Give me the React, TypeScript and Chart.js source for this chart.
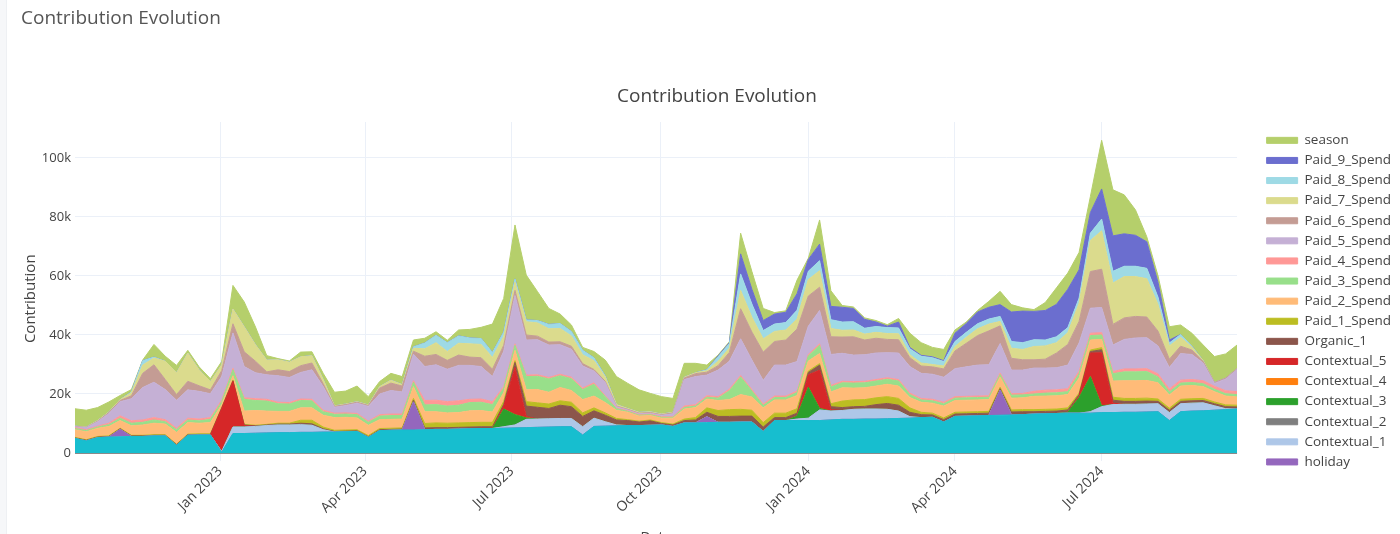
import React, { useEffect, useRef } from "react";
import { Chart, registerables } from "chart.js";

Chart.register(...registerables);

// weekly points, first week = Mon 3 Oct 2022; values in thousands
const firstWeek = Date.UTC(2022, 9, 3);
const tickDates = ["2023-01-01", "2023-04-01", "2023-07-01", "2023-10-01", "2024-01-01", "2024-04-01", "2024-07-01"];
const tickLabels = ["Jan 2023", "Apr 2023", "Jul 2023", "Oct 2023", "Jan 2024", "Apr 2024", "Jul 2024"];
const yTicks = [0, 20, 40, 60, 80, 100];

const trend = [
  4.9, 4.1, 5.2, 5.4, 5.5, 5.6, 5.6, 5.8, 5.8, 2.6, 6.0, 6.1, 6.1,
  0.2, 6.6, 6.6, 6.7, 6.8, 6.9, 6.9, 7.0, 7.0, 7.1, 7.1, 7.2, 7.3,
  5.3, 7.6, 7.7, 7.8, 7.8, 7.9, 8.0, 8.0, 8.1, 8.2, 8.3, 8.3, 8.4,
  8.5, 8.6, 8.7, 8.8, 8.9, 8.9, 6.1, 9.0, 9.1, 9.2, 9.3, 9.3, 9.4,
  9.5, 9.0, 10.2, 10.2, 10.3, 10.4, 10.4, 10.5, 10.5, 7.3, 11.0, 11.0, 11.0,
  11.0, 11.0, 11.2, 11.4, 11.4, 11.5, 11.5, 11.6, 11.7, 11.8, 12.0, 12.1, 10.5,
  12.4, 12.5, 12.6, 12.7, 12.8, 12.9, 13.0, 13.2, 13.3, 13.4, 13.5, 13.5, 13.5,
  13.7, 13.7, 13.8, 13.8, 13.9, 14.0, 11.0, 14.0, 14.2, 14.3, 14.5, 14.7, 14.9,
];
const holiday = [
  0, 0, 0, 0, 2.5, 0, 0, 0, 0, 0, 0, 0, 0,
  0, 0, 0, 0, 0, 0, 0, 0, 0, 0, 0, 0, 0,
  0, 0, 0, 0, 9.5, 0, 0, 0, 0, 0, 0, 0, 0,
  0, 0, 0, 0, 0, 0, 0, 0, 0, 0, 0, 0, 0,
  0, 0, 0, 0, 2.0, 0, 0, 0, 0, 0, 0, 0, 0,
  0, 0, 0, 0, 0, 0, 0, 0, 0, 0, 0, 0, 0,
  0, 0, 0, 0, 8.5, 0, 0, 0, 0, 0, 0, 0, 0,
  0, 0, 0, 0, 0, 0, 0, 0, 0, 0, 0, 0, 0,
];
const contextual1 = [
  0, 0, 0, 0, 0, 0, 0, 0, 0, 0, 0, 0, 0,
  0.3, 2.2, 2.2, 2.3, 2.5, 2.6, 2.6, 2.6, 2.4, 0.8, 0, 0, 0,
  0, 0, 0, 0, 0, 0, 0, 0, 0, 0, 0, 0, 0.5,
  1.0, 2.8, 2.8, 2.8, 2.8, 2.8, 2.8, 2.8, 1.5, 0.3, 0, 0, 0,
  0, 0, 0, 0, 0, 0, 0, 0, 0, 0, 0, 0, 0.5,
  0.8, 3.6, 3.0, 3.0, 3.4, 3.4, 3.4, 3.2, 2.5, 0.5, 0, 0, 0,
  0, 0, 0, 0, 0, 0, 0, 0, 0, 0, 0, 0, 0.5,
  2.0, 2.7, 2.7, 2.7, 2.7, 2.7, 2.7, 2.7, 2.7, 2.7, 1.5, 0.3, 0,
];
const contextual2 = [
  0, 0, 0, 0, 0, 0, 0, 0, 0, 0, 0, 0, 0,
  0, 0, 0, 0, 0, 0, 0, 0, 0, 0, 0, 0, 0,
  0, 0, 0, 0, 0, 0, 0, 0, 0, 0, 0, 0, 0,
  0, 0, 0, 0, 0, 0, 0, 0, 0, 0, 0, 0, 0,
  0, 0, 0, 0, 0, 0, 0, 0, 0, 0, 0, 0, 0,
  0, 0, 0, 0, 0, 0, 0, 0, 0, 0, 0, 0, 0,
  0, 0, 0, 0, 0, 0, 0, 0, 0, 0, 0, 0, 0,
  0, 0, 0, 0, 0, 0, 0, 0, 0, 0, 0, 0, 0,
];
const contextual3 = [
  0, 0, 0, 0, 0, 0, 0, 0, 0, 0, 0, 0, 0,
  0, 0, 0, 0, 0, 0, 0, 0, 0, 0, 0, 0, 0,
  0, 0, 0, 0, 0, 0, 0, 0, 0, 0, 0, 0, 6.0,
  3.5, 0.5, 0, 0, 0, 0, 0, 0, 0, 0, 0, 0, 0,
  0, 0, 0, 0, 0, 0, 0, 0, 0, 0, 0, 0, 1.0,
  10.5, 0.5, 0, 0, 0, 0, 0, 0, 0, 0, 0, 0, 0,
  0, 0, 0, 0, 0, 0, 0, 0, 0, 0, 0.3, 5.3, 11.9,
  0.3, 0, 0, 0, 0, 0, 0, 0, 0, 0, 0, 0, 0,
];
const contextual4 = [
  0, 0, 0, 0, 0, 0, 0, 0, 0, 0, 0, 0, 0,
  0, 0, 0, 0, 0, 0, 0, 0, 0, 0, 0, 0, 0,
  0, 0, 0, 0, 0, 0, 0, 0, 0, 0, 0, 0, 0,
  0, 0, 0, 0, 0, 0, 0, 0, 0, 0, 0, 0, 0,
  0, 0, 0, 0, 0, 0, 0, 0, 0, 0, 0, 0, 0,
  0, 0, 0, 0, 0, 0, 0, 0, 0, 0, 0, 0, 0,
  0, 0, 0, 0, 0, 0, 0, 0, 0, 0, 0, 0, 0,
  0, 0, 0, 0, 0, 0, 0, 0, 0, 0, 0, 0, 0,
];
const contextual5 = [
  0, 0, 0, 0, 0, 0, 0, 0, 0, 0, 0, 0, 0,
  14.5, 15.5, 0.5, 0, 0, 0, 0, 0, 0, 0, 0, 0, 0,
  0, 0, 0, 0, 0, 0, 0, 0, 0, 0, 0, 0, 1.0,
  16.0, 0.5, 0, 0, 0, 0, 0, 0, 0, 0, 0, 0, 0,
  0, 0, 0, 0, 0, 0, 0, 0, 0, 0, 0, 0, 0,
  4.2, 13.0, 0.5, 0, 0, 0, 0, 0, 0, 0, 0, 0, 0,
  0, 0, 0, 0, 0, 0, 0, 0, 0, 0, 0, 0.5, 8.0,
  18.0, 0.5, 0, 0, 0, 0, 0, 0, 0, 0, 0, 0, 0,
];
const organic1 = [
  0.2, 0.2, 0.2, 0.2, 0.2, 0.2, 0.2, 0.2, 0.2, 0.2, 0.2, 0.2, 0.2,
  0.2, 0.2, 0.2, 0.2, 0.2, 0.3, 0.3, 0.5, 0.5, 0.3, 0.2, 0.2, 0.2,
  0.2, 0.3, 0.3, 0.3, 0.6, 0.6, 0.6, 0.6, 0.6, 0.6, 0.6, 0.6, 0.6,
  1.7, 3.5, 4.0, 3.5, 4.5, 4.0, 3.5, 2.5, 2.2, 1.7, 1.7, 1.2, 1.5,
  0.5, 0.5, 0.8, 1.0, 1.5, 2.0, 2.0, 2.0, 2.0, 1.5, 1.0, 1.0, 1.0,
  0.8, 1.7, 1.0, 1.0, 0.9, 0.9, 1.5, 2.0, 2.0, 1.5, 1.0, 0.8, 0.8,
  0.8, 0.8, 0.8, 0.8, 0.5, 1.0, 1.0, 0.8, 0.8, 0.8, 0.8, 0.5, 0.5,
  1.0, 1.0, 1.0, 1.0, 1.0, 0.8, 0.8, 0.8, 0.8, 0.8, 0.7, 0.7, 0.7,
];
const paid1 = [
  0.2, 0.2, 0.2, 0.2, 0.2, 0.2, 0.2, 0.2, 0.2, 0.2, 0.2, 0.2, 0.2,
  0.2, 0.2, 0.2, 0.2, 0.2, 0.3, 0.3, 1.0, 1.2, 0.6, 0.4, 0.4, 0.4,
  0.4, 0.4, 0.4, 0.4, 0.6, 1.5, 1.6, 1.5, 1.5, 1.5, 1.5, 1.5, 1.0,
  0.6, 1.5, 1.5, 1.5, 1.5, 1.5, 1.2, 1.0, 0.8, 0.5, 0.3, 0.3, 0.3,
  0.3, 0.3, 0.5, 0.8, 1.5, 2.0, 2.3, 2.3, 2.0, 1.5, 1.5, 1.5, 1.5,
  0.5, 0.5, 1.0, 2.2, 2.3, 2.3, 2.3, 2.3, 2.3, 1.5, 0.8, 0.6, 0.6,
  0.6, 0.6, 0.6, 0.6, 0.5, 0.7, 0.7, 0.7, 0.7, 0.7, 0.7, 0.5, 0.5,
  0.7, 1.0, 1.0, 1.0, 1.0, 0.8, 0.7, 0.7, 0.7, 0.7, 0.6, 0.6, 0.6,
];
const paid2 = [
  2.6, 2.7, 2.8, 3.2, 2.6, 3.2, 3.5, 3.9, 3.6, 4.0, 3.9, 3.6, 3.8,
  1.0, 1.5, 4.5, 5.0, 4.5, 4.0, 4.0, 4.2, 4.2, 4.0, 4.3, 4.3, 4.0,
  3.5, 3.0, 3.0, 3.0, 4.0, 4.0, 3.8, 3.5, 3.5, 4.0, 4.0, 3.5, 3.0,
  3.5, 4.0, 4.5, 4.0, 4.5, 4.0, 4.5, 4.0, 3.5, 2.8, 2.5, 1.7, 1.5,
  1.5, 2.0, 3.4, 3.4, 3.0, 3.4, 3.4, 5.0, 4.5, 5.0, 4.5, 4.5, 4.5,
  3.4, 3.4, 4.0, 4.5, 4.0, 4.0, 4.0, 4.2, 4.2, 3.5, 3.4, 3.4, 4.0,
  4.0, 4.0, 4.0, 4.0, 3.5, 4.0, 4.0, 4.5, 4.5, 4.5, 4.5, 5.1, 3.4,
  2.8, 5.5, 6.0, 6.0, 6.0, 5.5, 4.5, 4.5, 4.5, 4.0, 3.5, 3.0, 2.8,
];
const paid3 = [
  0.4, 0.4, 0.4, 0.6, 0.8, 0.9, 0.9, 1.1, 0.8, 0.9, 0.9, 0.8, 1.1,
  1.0, 2.0, 4.0, 3.4, 3.4, 2.6, 2.5, 2.5, 2.4, 1.2, 1.1, 1.1, 1.1,
  1.0, 1.2, 1.3, 1.2, 1.5, 2.3, 2.4, 2.3, 2.5, 2.8, 2.8, 2.5, 1.5,
  1.7, 4.5, 4.5, 4.5, 4.0, 4.0, 3.4, 4.0, 2.0, 0.5, 0.3, 0.3, 0.3,
  0.3, 0.3, 0.5, 0.5, 0.6, 0.8, 3.0, 6.0, 2.0, 0.8, 0.8, 0.8, 1.0,
  1.7, 2.8, 1.7, 1.7, 1.7, 1.7, 1.7, 1.7, 1.7, 1.0, 0.8, 0.8, 0.8,
  0.8, 0.8, 0.8, 0.8, 0.8, 1.0, 1.0, 0.8, 1.0, 1.0, 1.0, 1.5, 1.5,
  1.5, 2.5, 3.0, 3.0, 3.0, 2.0, 1.0, 1.0, 1.0, 1.0, 0.8, 0.8, 0.8,
];
const paid4 = [
  0.3, 0.3, 0.3, 0.5, 0.8, 0.8, 0.8, 0.8, 0.7, 0.5, 0.6, 0.6, 0.6,
  0.5, 0.5, 0.5, 0.6, 0.6, 0.5, 0.5, 0.5, 0.5, 0.5, 0.4, 0.4, 0.4,
  0.4, 0.5, 0.5, 0.5, 0.5, 1.5, 1.5, 1.5, 1.5, 1.1, 1.1, 1.0, 0.5,
  0.5, 0.5, 0.5, 0.5, 0.5, 0.5, 0.5, 0.5, 0.3, 0.2, 0.2, 0.2, 0.2,
  0.2, 0.2, 0.5, 0.5, 0.5, 0.5, 0.5, 0.5, 0.5, 0.5, 0.5, 0.5, 0.5,
  0.5, 0.5, 0.5, 0.5, 0.5, 0.5, 0.5, 0.5, 0.5, 0.5, 0.5, 0.5, 0.5,
  0.5, 0.5, 0.5, 0.5, 0.5, 0.5, 0.5, 0.9, 1.0, 1.0, 1.0, 0.8, 0.8,
  0.8, 0.7, 1.0, 1.0, 1.0, 1.0, 1.0, 1.0, 1.0, 1.0, 1.0, 1.0, 1.0,
];
const paid5 = [
  0.3, 0.7, 1.5, 3.3, 4.8, 7.5, 11.0, 12.0, 10.2, 9.5, 9.6, 9.4, 8.1,
  8.0, 12.0, 10.6, 8.8, 8.3, 9.0, 8.5, 9.0, 10.0, 8.0, 2.0, 2.5, 3.5,
  5.0, 7.0, 8.0, 7.5, 9.0, 11.5, 12.0, 11.0, 12.0, 11.5, 11.0, 8.5, 12.0,
  16.4, 11.9, 11.9, 11.0, 10.0, 9.5, 7.5, 4.0, 4.5, 0.5, 0.3, 0.3, 0.3,
  0.5, 1.0, 9.0, 9.5, 7.0, 9.0, 9.5, 12.4, 10.0, 8.0, 10.5, 10.5, 10.0,
  9.6, 11.3, 10.5, 9.5, 9.0, 9.0, 9.0, 8.5, 9.0, 9.0, 8.5, 8.5, 8.5,
  9.5, 10.0, 10.5, 10.5, 10.0, 8.0, 7.9, 7.9, 7.5, 7.5, 8.0, 9.6, 8.5,
  8.5, 9.0, 10.0, 10.5, 10.5, 9.5, 7.3, 9.0, 8.5, 6.0, 1.0, 4.0, 7.5,
];
const paid6 = [
  0.1, 0.1, 0.2, 0.3, 0.4, 1.0, 4.8, 5.9, 3.4, 1.9, 2.9, 1.9, 1.3,
  2.0, 3.1, 5.0, 3.9, 1.0, 2.0, 2.0, 2.3, 2.3, 1.0, 0.3, 0.3, 0.3,
  0.3, 2.0, 2.5, 2.0, 1.0, 3.5, 3.5, 3.0, 3.5, 2.8, 3.0, 2.5, 2.0,
  1.7, 1.7, 1.2, 1.0, 1.0, 1.0, 0.8, 0.5, 0.4, 0.2, 0.2, 0.2, 0.2,
  0.2, 0.3, 0.5, 1.0, 1.0, 1.5, 3.0, 10.2, 9.5, 9.6, 8.0, 8.5, 11.0,
  10.2, 7.9, 6.0, 5.5, 6.2, 5.0, 5.0, 4.5, 4.5, 3.0, 2.5, 2.5, 2.8,
  6.0, 8.0, 10.0, 11.5, 6.0, 4.0, 3.5, 2.8, 3.0, 5.0, 7.0, 7.3, 12.4,
  13.0, 7.0, 7.3, 7.3, 7.0, 5.0, 2.8, 2.5, 1.5, 0.5, 0.3, 0.3, 0.3,
];
const paid7 = [
  0.1, 0.1, 0.2, 0.2, 0.3, 1.0, 2.8, 2.3, 6.2, 7.4, 9.6, 5.4, 2.8,
  2.0, 5.0, 8.5, 5.6, 4.0, 3.4, 3.2, 3.0, 2.5, 1.5, 0.2, 0.2, 0.2,
  0.2, 0.5, 1.0, 0.5, 1.0, 2.5, 4.0, 3.0, 4.0, 4.5, 4.5, 4.0, 3.0,
  2.8, 4.5, 4.5, 4.5, 4.5, 3.5, 3.0, 3.0, 1.5, 0.5, 0.3, 0.3, 0.3,
  0.2, 0.2, 0.3, 0.3, 0.5, 1.5, 1.5, 6.2, 5.0, 4.5, 3.4, 3.4, 3.4,
  5.6, 5.6, 2.8, 2.3, 2.3, 2.0, 2.0, 2.0, 2.0, 1.0, 1.0, 0.8, 1.0,
  1.5, 2.0, 2.3, 2.3, 1.5, 3.4, 3.5, 4.5, 4.5, 3.5, 4.0, 6.2, 10.5,
  13.0, 14.0, 14.0, 13.5, 13.0, 9.0, 4.5, 3.0, 1.0, 0.3, 0, 0, 0,
];
const paid8 = [
  0, 0, 0, 0, 0, 0.3, 1.5, 0.3, 0, 0, 0, 0, 0,
  0, 0, 0, 0, 0, 0, 0, 0, 0, 0, 0, 0, 0,
  0, 0, 0, 0, 0.5, 2.0, 2.5, 3.0, 2.5, 2.0, 2.0, 1.7, 1.5,
  1.1, 0.6, 0.8, 1.5, 1.7, 1.5, 1.5, 1.0, 0.3, 0, 0, 0, 0,
  0, 0, 0, 0, 0.3, 1.5, 1.5, 5.6, 4.5, 2.8, 2.5, 2.5, 3.0,
  2.8, 3.4, 3.0, 2.8, 2.8, 2.0, 2.0, 2.0, 2.0, 2.0, 2.3, 2.3, 1.5,
  1.7, 1.7, 1.7, 1.7, 1.7, 2.3, 2.3, 2.3, 2.0, 2.0, 1.7, 1.7, 2.5,
  4.0, 4.0, 3.5, 3.5, 3.5, 2.5, 1.0, 1.0, 0.3, 0, 0, 0, 0,
];
const paid9 = [
  0, 0, 0, 0, 0, 0, 0, 0, 0, 0, 0, 0, 0,
  0, 0, 0, 0, 0, 0, 0, 0, 0, 0, 0, 0, 0,
  0, 0, 0, 0, 0, 0, 0, 0, 0, 0, 0, 0, 0,
  0, 0, 0, 0, 0, 0, 0, 0, 0, 0, 0, 0, 0,
  0, 0, 0, 0, 0, 0.3, 0.3, 6.8, 5.0, 3.4, 3.4, 3.5, 5.6,
  4.0, 5.6, 4.5, 5.0, 4.5, 3.0, 1.5, 0.5, 2.0, 0.5, 0.3, 0.3, 0.3,
  2.8, 3.0, 4.0, 4.0, 4.0, 10.0, 10.7, 9.6, 10.0, 11.0, 13.0, 9.6, 7.0,
  10.2, 12.0, 11.0, 10.5, 9.0, 5.0, 1.0, 0, 0, 0, 0, 0, 0,
];
const season = [
  5.9, 5.7, 4.4, 3.4, 1.4, 0.8, 0.2, 4.3, 1.7, 2.5, 0.9, 1.0, 1.0,
  1.1, 8.0, 8.4, 6.0, 1.5, 0.4, 0.4, 1.6, 1.3, 2.0, 4.6, 4.4, 5.3,
  2.8, 1.7, 2.3, 2.7, 2.3, 1.6, 1.2, 0.8, 2.0, 2.9, 3.8, 9.6, 11.4,
  18.3, 15.2, 9.8, 5.4, 3.2, 2.2, 1.0, 2.1, 5.4, 9.5, 8.5, 7.6, 6.2,
  5.9, 4.7, 4.7, 3.2, 1.6, 0.3, 0.3, 7.0, 6.0, 4.1, 0.5, 0.5, 4.6,
  0.4, 8.2, 5.3, 0.6, 0.5, 0.5, 0.5, 0.5, 1.2, 4.8, 4.3, 3.2, 3.8,
  1.1, 0.5, 0.5, 2.0, 4.5, 2.5, 1.1, 0.6, 2.7, 5.6, 5.5, 5.9, 5.4,
  16.5, 15.6, 13.2, 8.6, 1.7, 2.2, 4.5, 3.2, 4.4, 5.3, 8.8, 8.2, 8.0,
];

// bottom to top, as stacked
const seriesNames = [
  "trend", "holiday", "Contextual_1", "Contextual_2", "Contextual_3", "Contextual_4", "Contextual_5",
  "Organic_1", "Paid_1_Spend", "Paid_2_Spend", "Paid_3_Spend", "Paid_4_Spend", "Paid_5_Spend",
  "Paid_6_Spend", "Paid_7_Spend", "Paid_8_Spend", "Paid_9_Spend", "season",
];
const seriesValues = [
  trend, holiday, contextual1, contextual2, contextual3, contextual4, contextual5,
  organic1, paid1, paid2, paid3, paid4, paid5, paid6, paid7, paid8, paid9, season,
];
const seriesColors = [
  "#17becf", "#9467bd", "#aec7e8", "#7f7f7f", "#2ca02c", "#ff7f0e", "#d62728",
  "#8c564b", "#bcbd22", "#ffbb78", "#98df8a", "#ff9896", "#c5b0d5",
  "#c49c94", "#dbdb8d", "#9edae5", "#6b6ecf", "#b5cf6b",
];

const DAY = 86400000;
const dayOf = (iso: string) => Math.round((Date.parse(iso) - firstWeek) / DAY);
const tickDays = tickDates.map(dayOf);

const FONT = "'Open Sans', 'DejaVu Sans', sans-serif";

const ContributionChart = () => {
  const chartRef = useRef<HTMLCanvasElement | null>(null);

  useEffect(() => {
    document.body.style.margin = "0";
    if (!chartRef.current) return;

    const datasets = seriesNames.map((name, k) => ({
      label: name,
      data: seriesValues[k].map((v, i) => ({ x: i * 7, y: v })),
      backgroundColor: seriesColors[k],
      borderColor: seriesColors[k],
      borderWidth: 1,
      pointRadius: 0,
      tension: 0,
      fill: k === 0 ? "origin" : "-1",
    }));

    const myChart = new Chart(chartRef.current, {
      type: "line",
      data: { datasets },
      options: {
        responsive: false,
        animation: false,
        layout: { padding: { top: 122, right: -1, left: 0, bottom: 0 } },
        plugins: {
          title: { display: false },
          tooltip: { enabled: false },
          legend: {
            position: "right",
            align: "start",
            reverse: true,
            // empty title only pushes the items down a little
            title: { display: true, text: " ", font: { size: 1 }, padding: { top: 2, bottom: 1.8 } },
            labels: {
              boxWidth: 31,
              boxHeight: 6,
              padding: 6.6,
              color: "#444",
              font: { family: FONT, size: 13.5 },
              filter: (item) => item.text !== "trend",
            },
          },
        },
        scales: {
          x: {
            type: "linear",
            min: 0,
            max: 721,
            afterBuildTicks: (scale) => {
              scale.ticks = tickDays.map((v) => ({ value: v }));
            },
            afterFit: (scale) => {
              scale.height = 107;
            },
            ticks: {
              autoSkip: false,
              minRotation: 45,
              maxRotation: 45,
              padding: 2,
              color: "#444",
              font: { family: FONT, size: 14 },
              callback: (_v, i) => tickLabels[i],
            },
            grid: { color: "#ebf0f8", tickColor: "#ebf0f8", tickLength: 8 },
            border: { display: false },
            title: {
              display: true,
              text: "Date",
              color: "#444",
              font: { family: FONT, size: 14 },
              padding: { top: 0, bottom: 14 },
            },
          },
          y: {
            stacked: true,
            min: 0,
            max: 112.2,
            afterFit: (scale) => {
              scale.width = 75;
            },
            ticks: {
              stepSize: 20,
              includeBounds: false,
              padding: 4,
              color: "#444",
              font: { family: FONT, size: 13 },
              callback: (v) => (Number(v) === 0 ? "0" : `${v}k`),
            },
            afterBuildTicks: (scale) => {
              scale.ticks = yTicks.map((v) => ({ value: v }));
            },
            grid: {
              drawTicks: false,
              color: (ctx) => (ctx.tick && ctx.tick.value === 0 ? "#8a8a8a" : "#ebf0f8"),
              lineWidth: (ctx) => (ctx.tick && ctx.tick.value === 0 ? 2 : 1),
            },
            border: { display: false },
            title: {
              display: true,
              // trailing en-spaces nudge the centred label down to where plotly puts it
              text: "Contribution\u2002\u2002\u2002",
              color: "#444",
              font: { family: FONT, size: 15 },
              padding: { top: 22, bottom: 0 },
            },
          },
          gap: {
            type: "linear",
            position: "right",
            display: true,
            grid: { display: false },
            ticks: { display: false },
            border: { display: false },
            afterFit: (scale) => {
              scale.width = 23;
            },
          },
        },
      },
    });

    return () => {
      myChart.destroy();
    };
  }, []);

  return (
    <div
      style={{
        position: "relative",
        width: 1400,
        height: 534,
        overflow: "hidden",
        background: "#fff",
        fontFamily: FONT,
      }}
    >
      <div style={{ position: "absolute", left: 0, top: 0, width: 6, height: 534, background: "#f6f7f9", borderRight: "1px solid #eef0f3" }} />
      <canvas ref={chartRef} width={1400} height={560} style={{ position: "absolute", left: 0, top: 0 }} />
      <div style={{ position: "absolute", left: 21, top: 5, fontSize: 19, lineHeight: "24px", color: "#555" }}>
        Contribution Evolution
      </div>
      <div
        style={{
          position: "absolute",
          left: 0,
          top: 83,
          width: 1434,
          textAlign: "center",
          fontSize: 19,
          lineHeight: "24px",
          color: "#444",
        }}
      >
        Contribution Evolution
      </div>
    </div>
  );
};

export default function App() {
  return <ContributionChart />;
}
